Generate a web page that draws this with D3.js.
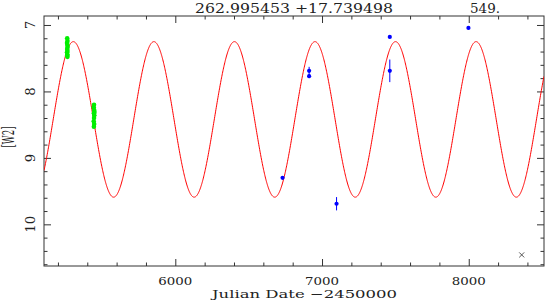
<!doctype html>
<html><head><meta charset="utf-8"/>
<style>
  body { margin:0; background:#fff; }
  svg { display:block; }
  text { font-family:"DejaVu Serif", serif; fill:#222; }
</style>
</head><body>
<svg id="g" width="546" height="300"></svg>
<script src="https://cdn.jsdelivr.net/npm/d3@7"></script>
<script>
// fit parameters of the periodic model (period shown top right)
const PERIOD = 549;
const EPOCH_MAX = 5305;   // date of brightest point of the model
const MEAN_MAG = 8.421;
const AMP_MAG = 1.170;

const xTicksMajor = [6000, 7000, 8000];
const yTicksMajor = [7, 8, 9, 10];

// green photometry (dense early epochs)
const greenJd  = [5263, 5265, 5262, 5264, 5266, 5263, 5265, 5262, 5264, 5263, 5265,
                  5446, 5444, 5447, 5449, 5445, 5448, 5446, 5444, 5447, 5445];
const greenMag = [7.20, 7.24, 7.27, 7.30, 7.33, 7.36, 7.39, 7.41, 7.44, 7.46, 7.48,
                  8.20, 8.24, 8.28, 8.31, 8.33, 8.36, 8.40, 8.45, 8.49, 8.53];

// blue photometry with errors
const blueJd  = [6731, 6912, 6912, 7099, 7462, 7462, 7998];
const blueMag = [9.30, 7.69, 7.77, 9.69, 7.18, 7.69, 7.045];
const blueErr = [0.02, 0.06, 0.03, 0.10, 0.02, 0.17, 0.02];

// flagged point
const crossJd = [8361];
const crossMag = [10.46];

const svg = d3.select('#g');
const x = d3.scaleLinear().domain([5105, 8513]).range([44, 544]);
const y = d3.scaleLinear().domain([6.865, 10.627]).range([16, 266]);
const AX = '#333';

// frame ticks, pointing inward on all four sides
const xMinor = d3.range(5200, 8513, 200).filter(v => !xTicksMajor.includes(v));
const yMinor = d3.range(7, 10.62, 0.2).map(v => +v.toFixed(1)).filter(v => !yTicksMajor.includes(v));
svg.append('g').attr('transform', 'translate(0,266)')
  .call(d3.axisTop(x).tickValues(xTicksMajor).tickSize(7).tickFormat(''));
svg.append('g').attr('transform', 'translate(0,266)')
  .call(d3.axisTop(x).tickValues(xMinor).tickSize(3.5).tickFormat(''));
svg.append('g').attr('transform', 'translate(0,16)')
  .call(d3.axisBottom(x).tickValues(xTicksMajor).tickSize(7).tickFormat(''));
svg.append('g').attr('transform', 'translate(0,16)')
  .call(d3.axisBottom(x).tickValues(xMinor).tickSize(3.5).tickFormat(''));
svg.append('g').attr('transform', 'translate(44,0)')
  .call(d3.axisRight(y).tickValues(yTicksMajor).tickSize(7).tickFormat(''));
svg.append('g').attr('transform', 'translate(44,0)')
  .call(d3.axisRight(y).tickValues(yMinor).tickSize(3.5).tickFormat(''));
svg.append('g').attr('transform', 'translate(544,0)')
  .call(d3.axisLeft(y).tickValues(yTicksMajor).tickSize(7).tickFormat(''));
svg.append('g').attr('transform', 'translate(544,0)')
  .call(d3.axisLeft(y).tickValues(yMinor).tickSize(3.5).tickFormat(''));
svg.selectAll('.domain').remove();
svg.selectAll('.tick line').attr('stroke', AX);
svg.append('rect').attr('x', 44).attr('y', 16).attr('width', 500).attr('height', 250)
  .attr('fill', 'none').attr('stroke', AX).attr('stroke-width', 1);

// tick labels
svg.append('g').selectAll('text').data(xTicksMajor).enter().append('text')
  .attr('x', d => x(d)).attr('y', 284.5).attr('text-anchor', 'middle')
  .attr('font-size', 11.5).attr('textLength', 34).attr('lengthAdjust', 'spacingAndGlyphs')
  .text(d => d);
svg.append('g').selectAll('text').data(yTicksMajor).enter().append('text')
  .attr('transform', d => `translate(34.5,${y(d)}) rotate(-90)`)
  .attr('text-anchor', 'middle').attr('font-size', 12)
  .attr('textLength', d => String(d).length * 8.5).attr('lengthAdjust', 'spacingAndGlyphs')
  .text(d => d);

// axis titles and header
svg.append('text').attr('x', 212).attr('y', 297.5)
  .attr('font-size', 11.5).attr('textLength', 185).attr('lengthAdjust', 'spacingAndGlyphs')
  .text('Julian Date \u22122450000');
svg.append('text').attr('transform', 'translate(14,137) rotate(-90)')
  .attr('text-anchor', 'middle').attr('font-size', 16)
  .attr('textLength', 21).attr('lengthAdjust', 'spacingAndGlyphs').text('[W2]');
svg.append('text').attr('x', 195).attr('y', 12.5)
  .attr('font-size', 12).attr('textLength', 198).attr('lengthAdjust', 'spacingAndGlyphs')
  .text('262.995453 +17.739498');
svg.append('text').attr('x', 470).attr('y', 12.5)
  .attr('font-size', 12).attr('textLength', 30).attr('lengthAdjust', 'spacingAndGlyphs')
  .text('549.');

// model curve
const plot = svg.append('g');
plot.append('clipPath').attr('id', 'clip').append('rect')
  .attr('x', 44).attr('y', 16).attr('width', 500).attr('height', 250);
const model = d3.range(5105, 8514, 2).map(t => [t, MEAN_MAG - AMP_MAG * Math.cos(2 * Math.PI * (t - EPOCH_MAX) / PERIOD)]);
plot.append('path').datum(model).attr('clip-path', 'url(#clip)')
  .attr('fill', 'none').attr('stroke', '#ff0000').attr('stroke-width', 1)
  .attr('d', d3.line().x(d => x(d[0])).y(d => y(d[1])));

// green points
plot.selectAll('circle.g').data(greenJd).enter().append('circle').attr('class', 'g')
  .attr('cx', d => x(d)).attr('cy', (d, i) => y(greenMag[i])).attr('r', 2.3)
  .attr('fill', '#00ee00');

// blue points with error bars
plot.selectAll('line.e').data(blueJd).enter().append('line').attr('class', 'e')
  .attr('x1', d => x(d)).attr('x2', d => x(d))
  .attr('y1', (d, i) => y(blueMag[i] - blueErr[i])).attr('y2', (d, i) => y(blueMag[i] + blueErr[i]))
  .attr('stroke', '#0000ff').attr('stroke-width', 1);
plot.selectAll('circle.b').data(blueJd).enter().append('circle').attr('class', 'b')
  .attr('cx', d => x(d)).attr('cy', (d, i) => y(blueMag[i])).attr('r', 2.1)
  .attr('fill', '#0000ff');

// cross marker
const cs = 2.5;
crossJd.forEach((d, i) => {
  const cx = x(d), cy = y(crossMag[i]);
  plot.append('path').attr('d', `M${cx - cs},${cy - cs}L${cx + cs},${cy + cs}M${cx - cs},${cy + cs}L${cx + cs},${cy - cs}`)
    .attr('stroke', '#444').attr('stroke-width', 0.9);
});
</script>
</body></html>
